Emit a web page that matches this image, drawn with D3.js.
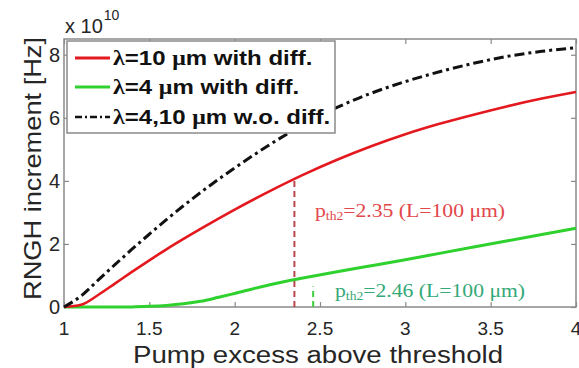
<!DOCTYPE html>
<html>
<head>
<meta charset="utf-8">
<script src="https://cdn.jsdelivr.net/npm/d3@7"></script>
<style>
  body { margin: 0; background: #fff; }
  svg { display: block; }
</style>
</head>
<body>
<svg id="chart" width="579" height="368"></svg>
<script>
// Pump excess above threshold (x) and RNGH increment in units of 1e10 Hz
const pump = [1.0, 1.1, 1.2, 1.3, 1.4, 1.5, 1.6, 1.7, 1.8, 1.9, 2.0, 2.2, 2.4, 2.6, 2.8, 3.0, 3.2, 3.4, 3.6, 3.8, 4.0];
const lambda10Diff = [0, 0.07, 0.38, 0.75, 1.12, 1.48, 1.83, 2.16, 2.48, 2.79, 3.09, 3.66, 4.19, 4.67, 5.10, 5.48, 5.81, 6.10, 6.37, 6.61, 6.82];
const lambda4Diff = [0, 0, 0, 0, 0.003, 0.02, 0.05, 0.10, 0.18, 0.30, 0.43, 0.70, 0.92, 1.12, 1.31, 1.50, 1.70, 1.90, 2.10, 2.30, 2.50];
const noDiff = [0, 0.35, 0.85, 1.35, 1.84, 2.31, 2.77, 3.21, 3.63, 4.03, 4.41, 5.13, 5.78, 6.33, 6.78, 7.15, 7.46, 7.73, 7.95, 8.11, 8.22];

const xTicks = [1, 1.5, 2, 2.5, 3, 3.5, 4];
const yTicks = [0, 2, 4, 6, 8];
const xTickLabels = ["1", "1.5", "2", "2.5", "3", "3.5", "4"];
const yTickLabels = ["0", "2", "4", "6", "8"];

// second-threshold markers
const thresholdP = [2.35, 2.46];
const thresholdColors = ["#e2474b", "#35a878"];
const thresholdLineColors = ["#b8484c", "#3ccf3c"];
const greenMarkerTop = 0.65;

const legendLabels = [
  ["λ", "=10 ", "μ", "m with diff."],
  ["λ", "=4 ", "μ", "m with diff."],
  ["λ", "=4,10 ", "μ", "m w.o. diff."]
];

const W = 579, H = 368;
const margin = { left: 64, right: 3, top: 39, bottom: 61 };
const svg = d3.select("#chart");

const x = d3.scaleLinear().domain([1, 4]).range([margin.left, W - margin.right]);
const y = d3.scaleLinear().domain([0, 8.5]).range([H - margin.bottom, margin.top]);

function stretch(sel, factor) {
  sel.each(function () {
    const w = this.getComputedTextLength();
    d3.select(this).attr("textLength", w * factor).attr("lengthAdjust", "spacingAndGlyphs");
  });
}

const axisColor = "#8a8a8a";
const textColor = "#262626";
const sans = "'Liberation Sans', Arial, sans-serif";
const serif = "'Liberation Serif', 'Times New Roman', serif";

// plot frame
svg.append("rect")
  .attr("x", x(1)).attr("y", y(8.5))
  .attr("width", x(4) - x(1)).attr("height", y(0) - y(8.5))
  .attr("fill", "#fff").attr("stroke", axisColor).attr("stroke-width", 1.5);

// inward ticks on all four sides
const tickLen = 5;
const bottomAxis = d3.axisBottom(x).tickValues(xTicks).tickSize(-tickLen).tickFormat("");
const topAxis = d3.axisTop(x).tickValues(xTicks).tickSize(-tickLen).tickFormat("");
const leftAxis = d3.axisLeft(y).tickValues(yTicks).tickSize(-tickLen).tickFormat("");
const rightAxis = d3.axisRight(y).tickValues(yTicks).tickSize(-tickLen).tickFormat("");
[[bottomAxis, `translate(0,${y(0)})`], [topAxis, `translate(0,${y(8.5)})`],
 [leftAxis, `translate(${x(1)},0)`], [rightAxis, `translate(${x(4)},0)`]].forEach(([ax, tr]) => {
  const g = svg.append("g").attr("transform", tr).call(ax);
  g.select(".domain").remove();
  g.selectAll("line").attr("stroke", axisColor).attr("stroke-width", 1.2);
});

// tick labels
svg.append("g").selectAll("text").data(xTicks).join("text")
  .attr("x", d => x(d)).attr("y", y(0) + 28)
  .attr("text-anchor", "middle")
  .attr("font-family", sans).attr("font-size", 19).attr("fill", textColor)
  .text((d, i) => xTickLabels[i]);

svg.append("g").selectAll("text").data(yTicks).join("text")
  .attr("x", x(1) - 4).attr("y", d => y(d) + 7)
  .attr("text-anchor", "end")
  .attr("font-family", sans).attr("font-size", 20).attr("fill", textColor)
  .text((d, i) => yTickLabels[i]);

// exponent marker
const expo = svg.append("text").attr("x", 65).attr("y", 33)
  .attr("font-family", sans).attr("font-size", 20).attr("fill", textColor);
expo.append("tspan").text("x 10");
expo.append("tspan").attr("dy", -13).attr("dx", 1).attr("font-size", 14).text("10");

// axis titles
svg.append("text")
  .attr("x", 318).attr("y", 363)
  .attr("text-anchor", "middle")
  .attr("font-family", sans).attr("font-size", 23).attr("fill", textColor)
  .attr("textLength", 370).attr("lengthAdjust", "spacingAndGlyphs")
  .text("Pump excess above threshold");

svg.append("text")
  .attr("transform", `translate(41,${(37 + 300) / 2}) rotate(-90)`)
  .attr("text-anchor", "middle")
  .attr("font-family", sans).attr("font-size", 24).attr("fill", textColor)
  .attr("textLength", 263).attr("lengthAdjust", "spacingAndGlyphs")
  .text("RNGH increment [Hz]");

// curves
const line = vals => d3.line()
  .x((d, i) => x(pump[i]))
  .y(d => y(d))
  .curve(d3.curveMonotoneX)(vals);

const plot = svg.append("g");

// threshold markers
const redAt = d3.scaleLinear().domain(pump).range(lambda10Diff);
plot.append("line")
  .attr("x1", x(thresholdP[0])).attr("x2", x(thresholdP[0]))
  .attr("y1", y(0)).attr("y2", y(redAt(thresholdP[0])))
  .attr("stroke", thresholdLineColors[0]).attr("stroke-width", 2)
  .attr("stroke-dasharray", "6,4");
plot.append("line")
  .attr("x1", x(thresholdP[1])).attr("x2", x(thresholdP[1]))
  .attr("y1", y(0)).attr("y2", y(greenMarkerTop))
  .attr("stroke", thresholdLineColors[1]).attr("stroke-width", 2)
  .attr("stroke-dasharray", "6,4");

plot.append("path").attr("d", line(lambda4Diff))
  .attr("fill", "none").attr("stroke", "#2ed12e").attr("stroke-width", 3);
plot.append("path").attr("d", line(lambda10Diff))
  .attr("fill", "none").attr("stroke", "#e3191f").attr("stroke-width", 2.6);
plot.append("path").attr("d", line(noDiff))
  .attr("fill", "none").attr("stroke", "#111").attr("stroke-width", 3)
  .attr("stroke-dasharray", "10,4,3,4");

// threshold annotations
function thresholdLabel(px, py, value, color) {
  const t = svg.append("text").attr("x", px).attr("y", py)
    .attr("font-family", serif).attr("font-size", 19).attr("fill", color);
  t.append("tspan").text("p");
  t.append("tspan").attr("font-size", 12).attr("dy", 3).text("th2");
  t.append("tspan").attr("dy", -3).text(`=${value} (L=100 μm)`);
  return t;
}
stretch(thresholdLabel(315, 217, thresholdP[0].toFixed(2), thresholdColors[0]), 1.14);
stretch(thresholdLabel(335, 297, thresholdP[1].toFixed(2), thresholdColors[1]), 1.14);

// legend
const legend = svg.append("g");
legend.append("rect")
  .attr("x", 67).attr("y", 41).attr("width", 268).attr("height", 92)
  .attr("fill", "#fff").attr("stroke", axisColor).attr("stroke-width", 1.5);
const legendStyles = [
  { color: "#e3191f", width: 3, dash: null },
  { color: "#2ed12e", width: 3, dash: null },
  { color: "#111", width: 2.5, dash: "7,3,2,3" }
];
const rowY = [58, 87, 117];
legendLabels.forEach((parts, i) => {
  legend.append("line")
    .attr("x1", 75).attr("x2", 110).attr("y1", rowY[i]).attr("y2", rowY[i])
    .attr("stroke", legendStyles[i].color).attr("stroke-width", legendStyles[i].width)
    .attr("stroke-dasharray", legendStyles[i].dash);
  const t = legend.append("text").attr("x", 113).attr("y", rowY[i] + 7)
    .attr("font-family", sans).attr("font-weight", "bold").attr("font-size", 20).attr("fill", "#111");
  t.append("tspan").attr("font-family", serif).text(parts[0]);
  t.append("tspan").text(parts[1]);
  t.append("tspan").attr("font-family", serif).text(parts[2]);
  t.append("tspan").text(parts[3]);
  stretch(t, 1.2);
});
</script>
</body>
</html>
